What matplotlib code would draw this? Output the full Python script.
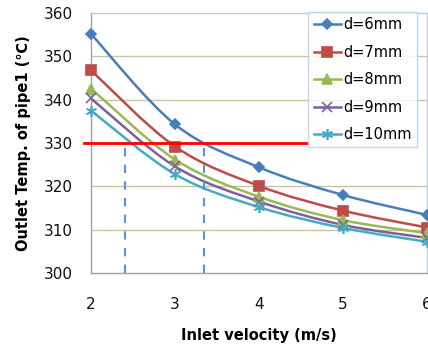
import matplotlib
matplotlib.use("Agg")
import matplotlib.pyplot as plt
import numpy as np
from matplotlib.path import Path
from matplotlib.patches import PathPatch

velocity = [2, 3, 4, 5, 6]
labels = ["d=6mm", "d=7mm", "d=8mm", "d=9mm", "d=10mm"]
temp_d6 = [355.2, 334.3, 324.4, 318.0, 313.4]
temp_d7 = [346.8, 329.2, 320.1, 314.4, 310.5]
temp_d8 = [342.6, 326.2, 317.6, 312.2, 309.2]
temp_d9 = [340.3, 324.6, 316.5, 311.1, 308.1]
temp_d10 = [337.5, 322.8, 315.2, 310.4, 307.2]
series = [temp_d6, temp_d7, temp_d8, temp_d9, temp_d10]
target_temp = 330.0
target_x_range = [1.92, 4.57]
crossing_x = [2.41, 3.34]

colors = ["#4A7EBB", "#BE4B48", "#98B954", "#7D60A0", "#46AAC5"]
markers = ["D", "s", "^", "x", (6, 2, 0)]
msizes = [5, 7, 7, 7, 8]

plt.rcParams['font.family'] = ['DejaVu Sans']
fig = plt.figure(figsize=(4.28, 3.46), dpi=100)
ax = fig.add_axes([0.2126, 0.211, 0.7854, 0.751])


def smooth_path(xs, ys, t=1/6):
    xs = np.asarray(xs, float); ys = np.asarray(ys, float)
    n = len(xs)
    verts = [(xs[0], ys[0])]
    codes = [Path.MOVETO]
    for i in range(n - 1):
        p0 = i - 1 if i > 0 else i
        p3 = i + 2 if i + 2 < n else i + 1
        c1 = (xs[i] + (xs[i + 1] - xs[p0]) * t, ys[i] + (ys[i + 1] - ys[p0]) * t)
        c2 = (xs[i + 1] - (xs[p3] - xs[i]) * t, ys[i + 1] - (ys[p3] - ys[i]) * t)
        verts += [c1, c2, (xs[i + 1], ys[i + 1])]
        codes += [Path.CURVE4] * 3
    return Path(verts, codes)


for vals, c, m, ms, lab in zip(series, colors, markers, msizes, labels):
    patch = PathPatch(smooth_path(velocity, vals), facecolor='none', edgecolor=c,
                      lw=1.8, zorder=3)
    ax.add_patch(patch)
    ax.plot(velocity, vals, linestyle='none', marker=m, color=c, ms=ms,
            mew=1.2, zorder=4, clip_on=False)
    ax.plot([], [], color=c, lw=1.8, marker=m, ms=ms, mew=1.2, label=lab)

ax.plot(target_x_range, [target_temp, target_temp], color='#FF0000', lw=2,
        zorder=5, clip_on=False)
for xv in crossing_x:
    ax.plot([xv, xv], [300, target_temp], color='#5B8FE0', lw=1.5,
            linestyle=(0, (4, 4)), zorder=5)

ax.set_xlim(2, 6)
ax.set_ylim(300, 360)
ax.set_xticks(velocity)
ax.set_yticks(np.arange(300, 361, 10))
ax.grid(False)
for gy in [310, 320, 340, 350]:
    ax.axhline(gy, color='#C9C3A5', lw=1, zorder=1)

ax.tick_params(axis='both', which='both', length=0, labelsize=11)
ax.tick_params(axis='y', pad=13)
ax.tick_params(axis='x', pad=17)
for lab in ax.get_xticklabels() + ax.get_yticklabels():
    lab.set_color('#111111')

ax.spines['left'].set_color('#A0A0A0')
ax.spines['bottom'].set_color('#A0A0A0')
ax.spines['top'].set_color('#B8CCE4')
ax.spines['right'].set_color('#B8CCE4')
for s in ax.spines.values():
    s.set_linewidth(1)

ax.set_xlabel("Inlet velocity (m/s)", fontsize=10.5, fontweight='bold', labelpad=12)
ax.set_ylabel("Outlet Temp. of pipe1 (\u2103)", fontsize=10.5, fontweight='bold', labelpad=9)

leg = ax.legend(loc='upper right', bbox_to_anchor=(0.970, 1.003), fontsize=10.5,
                frameon=True, fancybox=False, handlelength=1.9, handletextpad=0.15,
                labelspacing=0.85, borderpad=0.35, borderaxespad=0)
leg.get_frame().set_edgecolor('#B8CCE4')
leg.get_frame().set_linewidth(1)
leg.set_zorder(6)

fig.savefig("out.png", dpi=100)
